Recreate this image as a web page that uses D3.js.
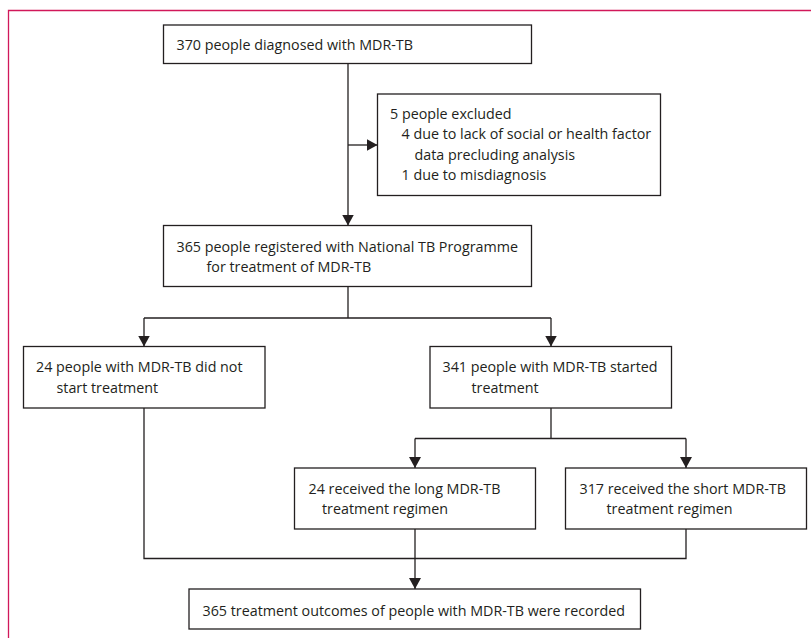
<!DOCTYPE html>
<html>
<head>
<meta charset="utf-8">
<script src="https://cdn.jsdelivr.net/npm/d3@7"></script>
<style>
  html, body { margin: 0; padding: 0; background: #ffffff; }
  svg { display: block; }
</style>
</head>
<body>
<svg id="chart" width="811" height="638"></svg>
<script>
// ---- Content (text of each flow box) ----
const boxIds = ["diagnosed", "excluded", "registered", "notStarted", "started", "longRegimen", "shortRegimen", "outcomes"];
const boxLines = [
  ["370 people diagnosed with MDR-TB"],
  ["5 people excluded", "4 due to lack of social or health factor", "data precluding analysis", "1 due to misdiagnosis"],
  ["365 people registered with National TB Programme", "for treatment of MDR-TB"],
  ["24 people with MDR-TB did not", "start treatment"],
  ["341 people with MDR-TB started", "treatment"],
  ["24 received the long MDR-TB", "treatment regimen"],
  ["317 received the short MDR-TB", "treatment regimen"],
  ["365 treatment outcomes of people with MDR-TB were recorded"]
];
// Counts shown in each box
const boxCounts = [370, 5, 365, 24, 341, 24, 317, 365];
// Flow links between boxes (from -> to)
const linkFrom = ["diagnosed", "diagnosed", "registered", "registered", "started", "started", "notStarted", "longRegimen", "shortRegimen"];
const linkTo   = ["registered", "excluded", "notStarted", "started", "longRegimen", "shortRegimen", "outcomes", "outcomes", "outcomes"];

// ---- Layout (positions / sizes / styles) ----
const layout = {
  diagnosed:    { x0: 163.5, x1: 531.5, y0: 25,  y1: 63.5, top: 25,  gap: 20,   dx: [13] },
  excluded:     { x0: 377.5, x1: 660.5, y0: 94,  y1: 195.5, top: 24.5, gap: 20.6, dx: [12.5, 24, 37, 24] },
  registered:   { x0: 163.5, x1: 531.5, y0: 225.5, y1: 286.5, top: 26, gap: 20, dx: [13, 43] },
  notStarted:   { x0: 23.5,  x1: 265,   y0: 346.5, y1: 408, top: 25,  gap: 21,   dx: [12.5, 33] },
  started:      { x0: 430,   x1: 671.5, y0: 346.5, y1: 408, top: 25,  gap: 21,   dx: [12.5, 41.5] },
  longRegimen:  { x0: 294.5, x1: 535.5, y0: 468,   y1: 529, top: 26,  gap: 20,   dx: [14, 27.5] },
  shortRegimen: { x0: 565.5, x1: 806.5, y0: 468,   y1: 529, top: 26,  gap: 20,   dx: [14, 41] },
  outcomes:     { x0: 189,   x1: 640.5, y0: 589,   y1: 629, top: 26.5, gap: 20,  dx: [13.5] }
};
const ink = "#231f20";
const frameColor = "#d1185a";
const fontSize = 14.3;

const svg = d3.select("#chart");

// Frame (magenta page border: top and left)
svg.append("path")
  .attr("d", d3.line()([[8.5, 638], [8.5, 10.5], [811, 10.5]]))
  .attr("fill", "none").attr("stroke", frameColor).attr("stroke-width", 1.3);

// Arrow marker
svg.append("defs").append("marker")
  .attr("id", "arrow").attr("viewBox", "0 0 11 12")
  .attr("refX", 11).attr("refY", 6)
  .attr("markerWidth", 11).attr("markerHeight", 12)
  .attr("markerUnits", "userSpaceOnUse")
  .attr("orient", "auto")
  .append("path").attr("d", "M0,0 L11,6 L0,12 Z").attr("fill", ink);

const B = id => layout[id];

// Connector geometry derived from box layout
const spineX = 348;           // main vertical spine
const trunkX1 = 144;          // notStarted column
const trunkX2 = 551;          // started column
const longX = 415;            // long regimen column
const shortX = 686;           // short regimen column
const split1Y = 318;
const split2Y = 438.5;
const mergeY = 558.5;

const lineGen = d3.line();
const links = [
  { pts: [[spineX, B("diagnosed").y1], [spineX, B("registered").y0]], arrow: true },
  { pts: [[spineX, 145], [B("excluded").x0, 145]], arrow: true },
  { pts: [[spineX, B("registered").y1], [spineX, split1Y]], arrow: false },
  { pts: [[trunkX1, split1Y], [trunkX2, split1Y]], arrow: false },
  { pts: [[trunkX1, split1Y], [trunkX1, B("notStarted").y0]], arrow: true },
  { pts: [[trunkX2, split1Y], [trunkX2, B("started").y0]], arrow: true },
  { pts: [[trunkX2, B("started").y1], [trunkX2, split2Y]], arrow: false },
  { pts: [[longX, split2Y], [shortX, split2Y]], arrow: false },
  { pts: [[longX, split2Y], [longX, B("longRegimen").y0]], arrow: true },
  { pts: [[shortX, split2Y], [shortX, B("shortRegimen").y0]], arrow: true },
  { pts: [[trunkX1, B("notStarted").y1], [trunkX1, mergeY], [shortX, mergeY], [shortX, B("shortRegimen").y1]], arrow: false },
  { pts: [[longX, B("longRegimen").y1], [longX, B("outcomes").y0]], arrow: true }
];

svg.append("g").selectAll("path").data(links).join("path")
  .attr("d", d => lineGen(d.pts))
  .attr("fill", "none").attr("stroke", ink).attr("stroke-width", 1.3)
  .attr("marker-end", d => d.arrow ? "url(#arrow)" : null);

// Boxes
const boxes = boxIds.map((id, i) => ({ id, lines: boxLines[i], count: boxCounts[i], ...layout[id] }));
const g = svg.append("g").selectAll("g").data(boxes).join("g");
g.append("rect")
  .attr("x", d => d.x0).attr("y", d => d.y0)
  .attr("width", d => d.x1 - d.x0).attr("height", d => d.y1 - d.y0)
  .attr("fill", "#ffffff").attr("stroke", ink).attr("stroke-width", 1.3);
g.each(function(d) {
  d3.select(this).selectAll("text").data(d.lines).join("text")
    .attr("x", (t, j) => d.x0 + d.dx[j])
    .attr("y", (t, j) => d.y0 + d.top + j * d.gap)
    .attr("font-family", "'Open Sans', 'Noto Sans', sans-serif")
    .attr("font-size", fontSize)
    .attr("fill", ink)
    .text(t => t);
});
</script>
</body>
</html>
